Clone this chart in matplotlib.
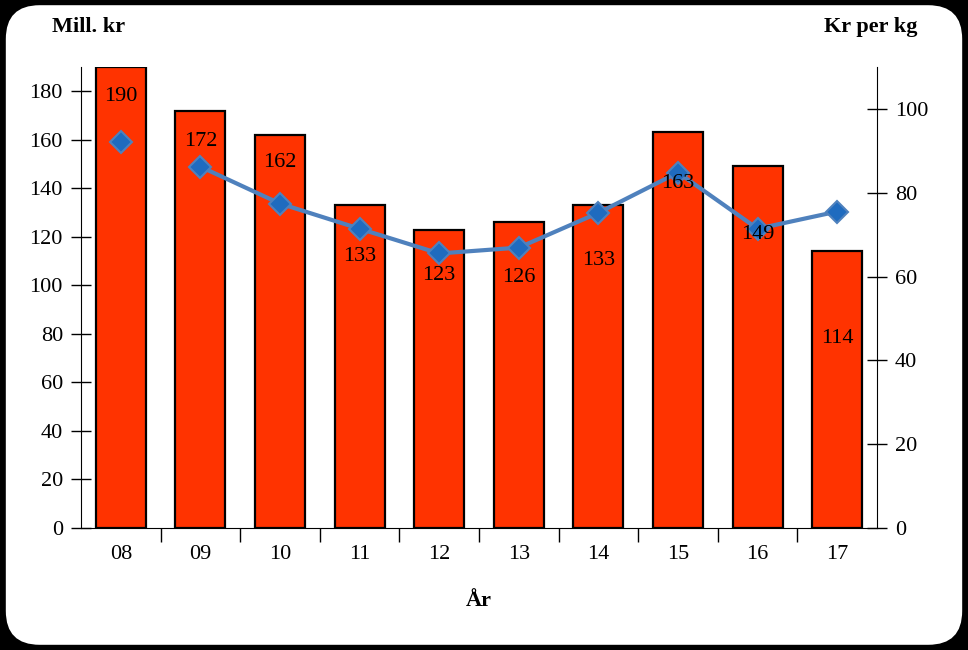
import matplotlib.pyplot as plt
import numpy as np
from matplotlib.patches import FancyBboxPatch

years = ["08", "09", "10", "11", "12", "13", "14", "15", "16", "17"]
mill_kr = [190, 172, 162, 133, 123, 126, 133, 163, 149, 114]   # bars, left axis
kr_per_kg = [92, 86.2, 77.4, 71.4, 65.5, 66.9, 75.2, 84.8, 71.4, 75.5]  # line, right axis

# how far below the bar top each value label sits (points)
label_drop = [21, 22, 20, 37, 33, 40, 40, 37, 49, 63]

plt.rcParams["font.family"] = ["Liberation Serif", "DejaVu Serif"]

fig = plt.figure(figsize=(9.68, 6.5), dpi=100, facecolor="black")
bg = FancyBboxPatch((0.006, 0.008), 0.988, 0.984, boxstyle="round,pad=0,rounding_size=0.035",
                    transform=fig.transFigure, facecolor="white", edgecolor="none",
                    mutation_aspect=968 / 650, zorder=-10)
fig.patches.append(bg)

ax = fig.add_axes([0.0837, 0.1877, 0.8223, 0.7093])
ax.set_facecolor("none")
x = np.arange(len(years))

ax.bar(x, mill_kr, width=0.63, color="#FF3300", edgecolor="black", linewidth=1.6, zorder=2)

ax.set_xlim(-0.5, len(years) - 0.5)
ax.set_ylim(0, 190)
ax.set_yticks(range(0, 181, 20))
ax.set_xticks(x)
ax.set_xticklabels(years)
ax.set_xticks(np.arange(0.5, len(years) - 0.5, 1.0), minor=True)
ax.tick_params(axis="x", which="major", length=0, pad=12, labelsize=16)
ax.tick_params(axis="x", which="minor", direction="out", length=10, width=1)
ax.tick_params(axis="y", direction="inout", length=14, width=1, labelsize=16, pad=6)
ax.spines["top"].set_visible(False)
ax.spines["right"].set_visible(False)
ax.set_xlabel("År", fontsize=16, fontweight="bold", labelpad=20)

ax2 = ax.twinx()
ax2.set_ylim(0, 110)
ax2.set_yticks(range(0, 101, 20))
ax2.tick_params(axis="y", direction="inout", length=14, width=1, labelsize=16, pad=6)
ax2.spines["top"].set_visible(False)
ax2.spines["left"].set_visible(False)
ax2.spines["bottom"].set_visible(False)
ax2.plot(x[1:], kr_per_kg[1:], color="#4F81BD", linewidth=3, zorder=3)
ax2.plot(x, kr_per_kg, linestyle="none", marker="D", markersize=11,
         markerfacecolor="#1F6BBF", markeredgecolor="#4F81BD", markeredgewidth=1.5, zorder=4)

# value labels drawn above the line
for i, v in enumerate(mill_kr):
    ax2.annotate(str(v), (x[i], v), xycoords=ax.transData, xytext=(0, -label_drop[i]),
                 textcoords="offset points", ha="center", va="center", fontsize=16, zorder=5)

fig.text(0.092, 0.958, "Mill. kr", ha="center", va="center", fontsize=16, fontweight="bold")
fig.text(0.900, 0.958, "Kr per kg", ha="center", va="center", fontsize=16, fontweight="bold")

fig.savefig("out.png", dpi=100, facecolor="black")
